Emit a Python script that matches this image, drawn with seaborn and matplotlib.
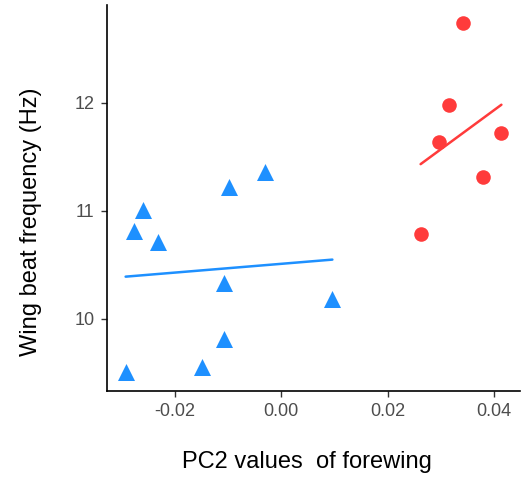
import matplotlib
matplotlib.use("Agg")
import matplotlib.pyplot as plt
import seaborn as sns
import pandas as pd

# Data
tri_x = [-0.0260, -0.0278, -0.0232, -0.0098, -0.0030, -0.0108, 0.0096, -0.0108, -0.0149, -0.0293]
tri_y = [11.01, 10.81, 10.71, 11.22, 11.36, 10.33, 10.18, 9.81, 9.55, 9.51]
circ_x = [0.0342, 0.0316, 0.0296, 0.0414, 0.0379, 0.0262]
circ_y = [12.74, 11.98, 11.64, 11.72, 11.31, 10.78]
x_ticks = [-0.02, 0.00, 0.02, 0.04]
x_tick_labels = ["-0.02", "0.00", "0.02", "0.04"]
y_ticks = [10, 11, 12]
y_tick_labels = ["10", "11", "12"]

sns.set_theme(style="ticks")
plt.rcParams['font.family'] = ['Liberation Sans', 'DejaVu Sans']

blue = "#1E90FF"
red = "#FF3B3B"

df_b = pd.DataFrame({"x": tri_x, "y": tri_y})
df_r = pd.DataFrame({"x": circ_x, "y": circ_y})

fig = plt.figure(figsize=(5.29, 4.78), dpi=100)
ax = fig.add_axes([0.2023, 0.1826, 0.7807, 0.8069])

sns.regplot(data=df_b, x="x", y="y", ax=ax, ci=None, marker="^", color=blue,
            scatter_kws={"s": 150, "linewidths": 0, "alpha": 1},
            line_kws={"linewidth": 1.8})
sns.regplot(data=df_r, x="x", y="y", ax=ax, ci=None, marker="o", color=red,
            scatter_kws={"s": 110, "linewidths": 0, "alpha": 1},
            line_kws={"linewidth": 1.8})

ax.set_xlim(-0.0328, 0.0449)
ax.set_ylim(9.333, 12.905)
ax.set_xticks(x_ticks)
ax.set_xticklabels(x_tick_labels)
ax.set_yticks(y_ticks)
ax.set_yticklabels(y_tick_labels)

for s in ["top", "right"]:
    ax.spines[s].set_visible(False)
for s in ["left", "bottom"]:
    ax.spines[s].set_color("black")
    ax.spines[s].set_linewidth(1.2)

ax.tick_params(axis="both", length=4, width=1.0, color="#333333",
               labelsize=13, labelcolor="#4D4D4D", pad=5)

ax.set_xlabel("PC2 values  of forewing", fontsize=17, color="black")
ax.set_ylabel("Wing beat frequency (Hz)", fontsize=17, color="black")
ax.xaxis.set_label_coords(0.485, -0.155)
ax.yaxis.set_label_coords(-0.157, 0.437)

fig.savefig("out.png", dpi=100)
